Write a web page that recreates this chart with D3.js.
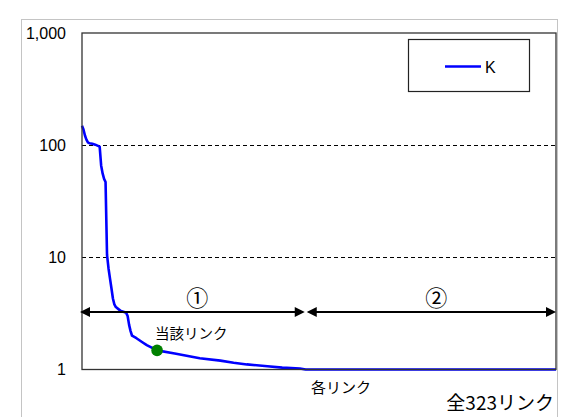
<!DOCTYPE html>
<html>
<head>
<meta charset="utf-8">
<script src="https://cdn.jsdelivr.net/npm/d3@7"></script>
<style>
  html, body { margin: 0; padding: 0; background: #fff; }
  svg { display: block; }
  .num { font-family: "Liberation Sans", Arial, sans-serif; }
  .jp { font-family: "Noto Sans CJK JP", "Noto Sans", sans-serif; }
</style>
</head>
<body>
<svg id="chart" width="566" height="417"></svg>
<script>
// Link rank (sorted by K, descending) and the K value at that rank
const linkRank = [1, 2, 3, 4, 5, 6, 8, 10, 13, 14, 15, 16, 17, 18, 19, 20, 21, 22, 23, 24, 27, 31, 32, 33, 34, 35, 38, 42, 45, 52, 64, 81, 95, 104, 113, 127, 137, 149, 153, 323];
const kValue   = [149, 138, 122, 112, 106, 104, 103, 101, 97, 66, 56, 50, 47, 10.5, 8.0, 6.5, 5.3, 4.3, 3.8, 3.6, 3.35, 3.2, 3.0, 2.5, 2.2, 2.0, 1.9, 1.75, 1.65, 1.48, 1.39, 1.26, 1.2, 1.15, 1.11, 1.07, 1.04, 1.02, 1.0, 1.0];

const totalLinks = 323;
const yTicks = [1, 10, 100, 1000];
const gridValues = [10, 100];

// Highlighted link
const targetRank = 52;
const targetValue = 1.48;
const targetLabel = "当該リンク";

// Ranges marked with arrows
const sectionBounds = [1, 153, 323];
const sectionLabels = ["①", "②"];

const seriesName = "K";
const xTitle = "各リンク";
const totalLabel = "全323リンク";

const svg = d3.select("#chart");
const plot = { left: 82, top: 33, right: 556, bottom: 369.5 };

const x = d3.scaleLinear().domain([1, totalLinks]).range([plot.left, plot.right]);
const y = d3.scaleLog().domain([1, 1000]).range([plot.bottom, plot.top]);

// outer frame
svg.append("rect")
  .attr("x", 21.5).attr("y", 19.5)
  .attr("width", 536).attr("height", 420)
  .attr("fill", "none").attr("stroke", "#c4c4c4").attr("stroke-width", 1);

// dashed gridlines
svg.append("g").selectAll("line").data(gridValues).join("line")
  .attr("x1", plot.left).attr("x2", plot.right)
  .attr("y1", d => Math.round(y(d)) + 0.5).attr("y2", d => Math.round(y(d)) + 0.5)
  .attr("stroke", "#000").attr("stroke-width", 1).attr("stroke-dasharray", "4,3");

// y axis labels
const yAxis = d3.axisLeft(y).tickValues(yTicks).tickFormat(d3.format(",")).tickSize(0).tickPadding(16);
const gy = svg.append("g").attr("transform", `translate(${plot.left},0)`).call(yAxis);
gy.select(".domain").remove();
gy.selectAll("text").attr("class", "num").attr("font-size", 16).attr("fill", "#000");

// the K curve
const line = d3.line().x((d, i) => x(linkRank[i])).y(d => y(d));
svg.append("path")
  .datum(kValue)
  .attr("d", line)
  .attr("fill", "none").attr("stroke", "#0000ff").attr("stroke-width", 2.6)
  .attr("stroke-linejoin", "round");

// plot frame
svg.append("rect")
  .attr("x", plot.left).attr("y", plot.top)
  .attr("width", plot.right - plot.left).attr("height", plot.bottom - plot.top)
  .attr("fill", "none").attr("stroke", "#333").attr("stroke-width", 1.3);

// range arrows
const arrowY = 312;
const headLen = 10, headHalf = 5;
function arrow(x0, x1) {
  const g = svg.append("g");
  g.append("line")
    .attr("x1", x0 + 2).attr("x2", x1 - 2)
    .attr("y1", arrowY).attr("y2", arrowY)
    .attr("stroke", "#000").attr("stroke-width", 2);
  g.append("path")
    .attr("d", `M${x0},${arrowY}L${x0 + headLen},${arrowY - headHalf}L${x0 + headLen},${arrowY + headHalf}Z`)
    .attr("fill", "#000");
  g.append("path")
    .attr("d", `M${x1},${arrowY}L${x1 - headLen},${arrowY - headHalf}L${x1 - headLen},${arrowY + headHalf}Z`)
    .attr("fill", "#000");
}
sectionLabels.forEach((lab, i) => {
  const x0 = x(sectionBounds[i]) + (i === 0 ? -2 : 1);
  const x1 = x(sectionBounds[i + 1]) + (i === 0 ? -1 : 0);
  arrow(x0, x1);
  svg.append("text")
    .attr("class", "jp")
    .attr("x", (x0 + x1) / 2 + 5).attr("y", 306)
    .attr("text-anchor", "middle")
    .attr("font-size", 22).attr("fill", "#000")
    .text(lab);
});

// highlighted link marker and label
svg.append("circle")
  .attr("cx", x(targetRank)).attr("cy", y(targetValue))
  .attr("r", 5.8).attr("fill", "#008000");
svg.append("text")
  .attr("class", "jp")
  .attr("x", x(targetRank) - 2).attr("y", 339)
  .attr("font-size", 14.5).attr("fill", "#000")
  .text(targetLabel);

// x title and total count
svg.append("text")
  .attr("class", "jp")
  .attr("x", 311).attr("y", 393)
  .attr("font-size", 15).attr("fill", "#000")
  .text(xTitle);
svg.append("text")
  .attr("class", "jp")
  .attr("x", 554).attr("y", 410)
  .attr("text-anchor", "end")
  .attr("font-size", 19).attr("fill", "#000")
  .text(totalLabel);

// legend
const legend = svg.append("g");
legend.append("rect")
  .attr("x", 408.5).attr("y", 39.5).attr("width", 121).attr("height", 52)
  .attr("fill", "#fff").attr("stroke", "#222").attr("stroke-width", 1.2);
legend.append("line")
  .attr("x1", 445).attr("x2", 481).attr("y1", 66.5).attr("y2", 66.5)
  .attr("stroke", "#0000ff").attr("stroke-width", 2.6);
legend.append("text")
  .attr("class", "num")
  .attr("x", 485).attr("y", 72.5)
  .attr("font-size", 16).attr("fill", "#000")
  .text(seriesName);
</script>
</body>
</html>
